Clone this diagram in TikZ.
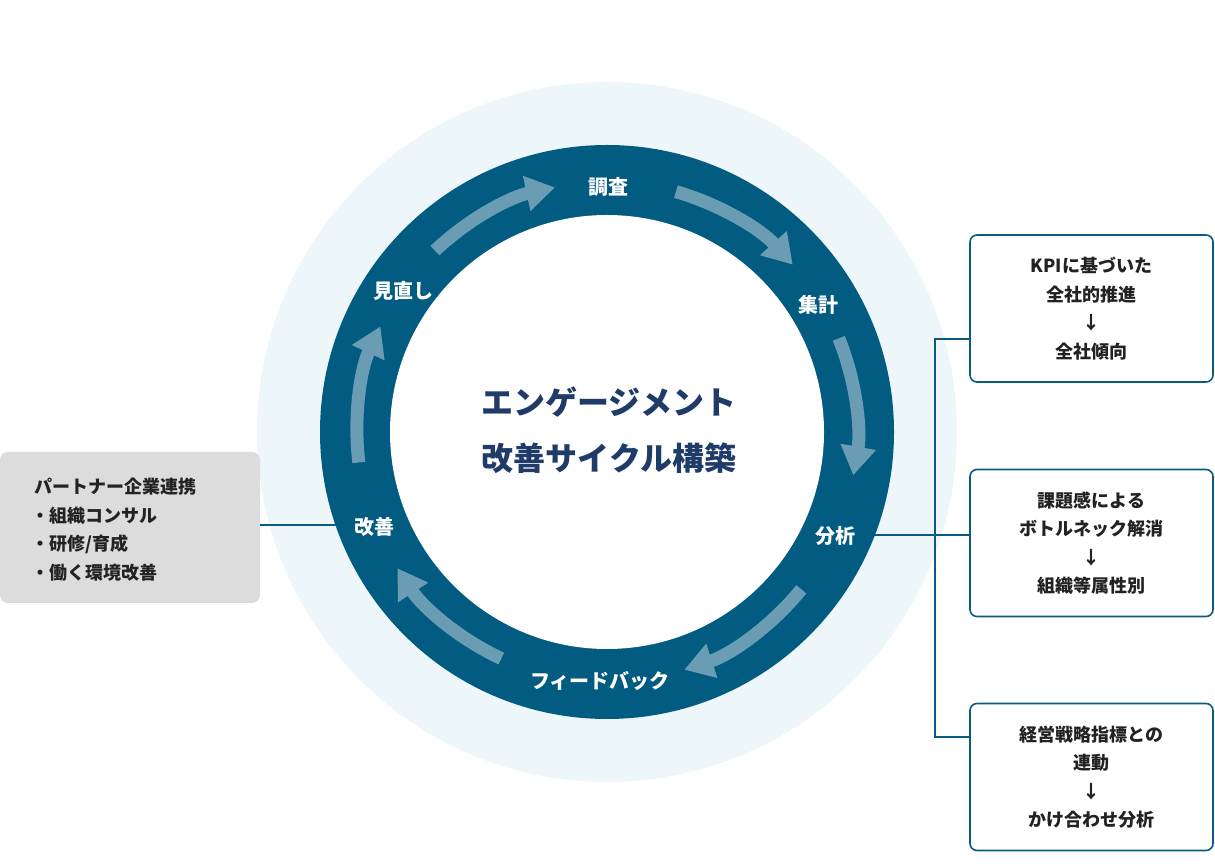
\documentclass[tikz,border=0pt]{standalone}
\usepackage{fontspec}
\setmainfont{Noto Sans CJK JP}
\usetikzlibrary{arrows.meta}
\definecolor{ringc}{HTML}{025B80}
\definecolor{arrowc}{HTML}{6A9DB4}
\definecolor{haloc}{HTML}{EDF6F9}
\definecolor{grayc}{HTML}{DCDCDC}
\definecolor{linec}{HTML}{0B5A80}
\definecolor{navy}{HTML}{1F3B68}
\definecolor{txt}{HTML}{222222}
\begin{document}
\begin{tikzpicture}[x=1pt,y=1pt,
  lbl/.style={text=white,font=\bfseries\fontsize{20}{22}\selectfont,inner sep=0pt},
  arr/.style={draw=arrowc,line width=13pt,-{Triangle[length=29pt,width=34pt]}},
  infobox/.style={draw=linec,line width=1.6pt,fill=white,rounded corners=7pt,minimum width=243pt,minimum height=147pt,align=center,text=txt,font=\bfseries\fontsize{18}{28.5}\selectfont},
  conn/.style={draw=linec,line width=1.6pt}]
\useasboundingbox (0,0) rectangle (1215,865);
\coordinate (C) at (607,433);
\fill[haloc] (C) circle[radius=350];
\fill[ringc] (C) circle[radius=287];
\fill[white] (C) circle[radius=217];
\foreach \a/\b in {133.5/102, 74/42, 22/-10, -39/-72, -115/-147, 187/155}
  \draw[arr] (C) ++(\a:250) arc[start angle=\a,end angle=\b,radius=250];
\node[lbl] (chosa) at (608,678) {調査};
\node[lbl] (shukei) at (818,560) {集計};
\node[lbl] (bunseki) at (835,329) {分析};
\node[lbl] (fb) at (600,184) {フィードバック};
\node[lbl] (kaizen) at (374,338) {改善};
\node[lbl] (minaoshi) at (403,574) {見直し};
\node[font=\bfseries\fontsize{32}{56}\selectfont,text=navy,align=center] (title) at (609,435) {エンゲージメント\\改善サイクル構築};
% connectors
\coordinate (ringL) at (336,340);
\coordinate (ringR) at (874,330);
\coordinate (brT) at (935,526);
\coordinate (brB) at (935,128);
\node[fill=grayc,rounded corners=8pt,minimum width=260pt,minimum height=151pt,inner sep=0pt] (lbox) at (130,337.5) {};
\node[anchor=west,align=left,text=txt,font=\bfseries\fontsize{18}{28.5}\selectfont,inner sep=0pt] (ltext) at (31,335.5) {\hspace{3pt}パートナー企業連携\\・組織コンサル\\・研修/育成\\・働く環境改善};
\node[infobox] (b1) at (1091.5,556.5) {KPIに基づいた\\全社的推進\\↓\\全社傾向};
\node[infobox] (b2) at (1091.5,322) {課題感による\\ボトルネック解消\\↓\\組織等属性別};
\node[infobox] (b3) at (1091.5,88) {経営戦略指標との\\連動\\↓\\かけ合わせ分析};
\draw[conn] (ringL -| lbox.east) -- (ringL);
\draw[conn] (ringR) -- (ringR -| b2.west);
\draw[conn] (brT -| b1.west) -- (brT) -- (brB) -- (brB -| b3.west);
\end{tikzpicture}
\end{document}
